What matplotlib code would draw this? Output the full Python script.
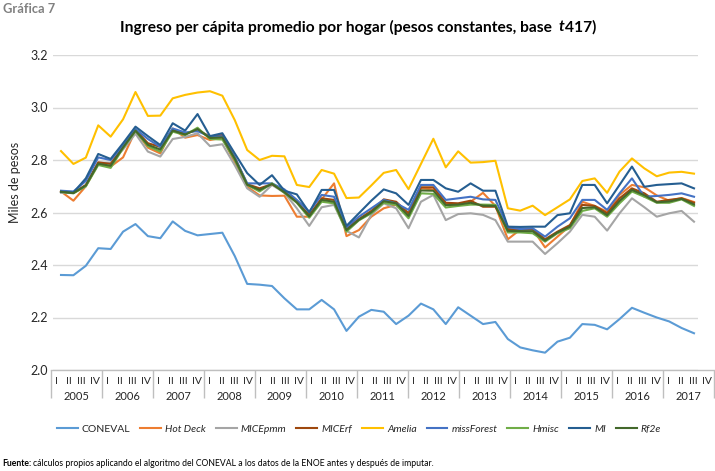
import numpy as np
import matplotlib
matplotlib.use('Agg')
import matplotlib.pyplot as plt
from matplotlib import font_manager as fm

plt.rcParams['font.family'] = ['Lato', 'DejaVu Sans']

years = [str(y) for y in range(2005, 2018)]
quarters = ['I', 'II', 'III', 'IV']

coneval = [2.362, 2.361, 2.397, 2.464, 2.461, 2.527, 2.556, 2.510, 2.502, 2.566, 2.530, 2.513,
           2.518, 2.523, 2.434, 2.328, 2.325, 2.320, 2.273, 2.231, 2.231, 2.267, 2.231, 2.149,
           2.203, 2.229, 2.222, 2.175, 2.207, 2.253, 2.231, 2.175, 2.239, 2.207, 2.175, 2.183,
           2.118, 2.086, 2.075, 2.066, 2.108, 2.123, 2.175, 2.172, 2.155, 2.194, 2.237, 2.218,
           2.200, 2.185, 2.160, 2.140]
hot_deck = [2.680, 2.645, 2.700, 2.786, 2.775, 2.810, 2.912, 2.847, 2.825, 2.920, 2.885, 2.895,
            2.876, 2.885, 2.790, 2.698, 2.665, 2.663, 2.664, 2.584, 2.584, 2.650, 2.711, 2.510,
            2.533, 2.584, 2.616, 2.629, 2.597, 2.692, 2.688, 2.632, 2.629, 2.641, 2.675, 2.625,
            2.498, 2.535, 2.537, 2.467, 2.508, 2.549, 2.641, 2.625, 2.603, 2.667, 2.705, 2.696,
            2.665, 2.645, 2.655, 2.640]
mice_pmm = [2.675, 2.675, 2.700, 2.790, 2.790, 2.840, 2.900, 2.832, 2.813, 2.880, 2.888, 2.902,
            2.853, 2.860, 2.780, 2.692, 2.660, 2.705, 2.675, 2.616, 2.549, 2.620, 2.629, 2.530,
            2.505, 2.591, 2.635, 2.616, 2.540, 2.641, 2.667, 2.571, 2.594, 2.597, 2.591, 2.571,
            2.489, 2.489, 2.489, 2.442, 2.483, 2.527, 2.591, 2.584, 2.531, 2.597, 2.654, 2.620,
            2.584, 2.597, 2.606, 2.565]
mice_rf = [2.680, 2.675, 2.705, 2.791, 2.785, 2.850, 2.915, 2.864, 2.850, 2.917, 2.900, 2.915,
           2.889, 2.895, 2.810, 2.708, 2.692, 2.708, 2.679, 2.641, 2.591, 2.654, 2.648, 2.540,
           2.575, 2.606, 2.650, 2.641, 2.597, 2.696, 2.696, 2.637, 2.635, 2.645, 2.622, 2.622,
           2.537, 2.535, 2.537, 2.498, 2.527, 2.552, 2.629, 2.625, 2.597, 2.654, 2.692, 2.673,
           2.641, 2.648, 2.654, 2.637]
amelia = [2.834, 2.785, 2.809, 2.932, 2.889, 2.955, 3.059, 2.968, 2.969, 3.035, 3.048, 3.057,
          3.062, 3.045, 2.952, 2.838, 2.800, 2.816, 2.814, 2.705, 2.697, 2.762, 2.748, 2.655,
          2.657, 2.703, 2.751, 2.762, 2.689, 2.785, 2.881, 2.772, 2.833, 2.790, 2.792, 2.797,
          2.616, 2.607, 2.626, 2.590, 2.620, 2.650, 2.720, 2.730, 2.675, 2.756, 2.806, 2.768,
          2.738, 2.752, 2.755, 2.748]
miss_forest = [2.683, 2.680, 2.720, 2.810, 2.800, 2.855, 2.918, 2.880, 2.850, 2.920, 2.905, 2.910,
               2.889, 2.890, 2.810, 2.711, 2.711, 2.711, 2.688, 2.648, 2.603, 2.667, 2.660, 2.544,
               2.584, 2.616, 2.648, 2.635, 2.610, 2.705, 2.705, 2.648, 2.654, 2.660, 2.650, 2.648,
               2.544, 2.537, 2.540, 2.508, 2.546, 2.578, 2.648, 2.648, 2.610, 2.673, 2.730, 2.660,
               2.663, 2.667, 2.673, 2.660]
hmisc = [2.678, 2.673, 2.700, 2.781, 2.770, 2.845, 2.910, 2.853, 2.832, 2.908, 2.895, 2.923,
         2.880, 2.878, 2.800, 2.705, 2.680, 2.711, 2.675, 2.637, 2.580, 2.641, 2.635, 2.527,
         2.570, 2.597, 2.637, 2.629, 2.578, 2.673, 2.671, 2.619, 2.625, 2.630, 2.630, 2.629,
         2.524, 2.524, 2.521, 2.489, 2.521, 2.540, 2.606, 2.616, 2.584, 2.635, 2.680, 2.660,
         2.637, 2.637, 2.650, 2.625]
mi = [2.679, 2.676, 2.730, 2.823, 2.804, 2.864, 2.927, 2.891, 2.857, 2.940, 2.912, 2.975,
      2.891, 2.902, 2.825, 2.750, 2.705, 2.742, 2.683, 2.669, 2.600, 2.686, 2.686, 2.549,
      2.597, 2.645, 2.688, 2.673, 2.629, 2.724, 2.724, 2.692, 2.679, 2.711, 2.683, 2.683,
      2.546, 2.545, 2.546, 2.546, 2.590, 2.597, 2.705, 2.705, 2.635, 2.705, 2.775, 2.698,
      2.705, 2.708, 2.711, 2.692]
rf2e = [2.679, 2.674, 2.703, 2.786, 2.778, 2.848, 2.912, 2.858, 2.840, 2.912, 2.897, 2.918,
        2.884, 2.886, 2.805, 2.706, 2.686, 2.709, 2.677, 2.639, 2.585, 2.648, 2.641, 2.533,
        2.572, 2.601, 2.643, 2.635, 2.587, 2.684, 2.683, 2.628, 2.630, 2.637, 2.626, 2.625,
        2.530, 2.529, 2.529, 2.493, 2.524, 2.546, 2.617, 2.620, 2.590, 2.644, 2.686, 2.666,
        2.639, 2.642, 2.652, 2.631]

names = ['CONEVAL', 'Hot Deck', 'MICEpmm', 'MICErf', 'Amelia', 'missForest', 'Hmisc', 'MI', 'Rf2e']
values = [coneval, hot_deck, mice_pmm, mice_rf, amelia, miss_forest, hmisc, mi, rf2e]
colors = ['#5B9BD5', '#ED7D31', '#A5A5A5', '#9E480E', '#FFC000', '#4472C4', '#70AD47', '#255E91', '#43682B']

# no condensed face is installed, Lato is the narrowest of what is there
head_bold = fm.FontProperties(family='Lato', weight='bold')
head_it = fm.FontProperties(family='Lato', weight='bold', style='italic')
body_reg = fm.FontProperties(family='Lato')

W, H = 715, 471
fig = plt.figure(figsize=(W / 100, H / 100), dpi=100)

# main plot area (pixel box: x 53..698, y 55..370)
ax = fig.add_axes([53 / W, 1 - 370 / H, 645 / W, 315 / H])
x = np.arange(len(coneval))
for name, vals, c in zip(names, values, colors):
    ax.plot(x, vals, color=c, lw=1.5, label=name)
ax.set_xlim(-0.645, 51.322)
ax.set_ylim(2.0, 3.2)
ticks = np.arange(2.0, 3.21, 0.2)
ax.set_yticks(ticks)
ax.set_yticklabels(['%.1f' % v for v in ticks])
ax.set_xticks([])
ax.tick_params(axis='y', length=0, pad=3.6, labelsize=9, labelcolor='#262626')
ax.grid(axis='y', color='#D9D9D9', lw=1.0)
ax.set_axisbelow(True)
for s in ax.spines.values():
    s.set_visible(False)
ax.set_ylabel('Miles de pesos', fontsize=9, color='#262626')
ax.yaxis.set_label_coords(-(53 - 21) / 645, (370 - 182) / 315)

# category axis (quarters / years)
lab = fig.add_axes([50.5 / W, 1 - 400 / H, 663 / W, 30 / H])
lab.set_xlim(0, 4 * len(years))
lab.set_ylim(0, 1)
lab.axis('off')
lab.plot([0, 4 * len(years)], [1, 1], color='#BFBFBF', lw=1.0, clip_on=False)
bounds = np.arange(len(years) + 1) * 4
lab.vlines(bounds, 0.07, 1, color='#BFBFBF', lw=1.0, clip_on=False)
for k, yr in enumerate(years):
    for q, qn in enumerate(quarters):
        lab.text(4 * k + q + 0.45, 0.6, qn, ha='center', va='center', fontsize=7.5, color='#262626')
    lab.text(4 * k + 2, 0.12, yr, ha='center', va='center', fontsize=8, color='#262626')

# legend
leg = fig.legend(*ax.get_legend_handles_labels(), loc='center', bbox_to_anchor=(0.502, 1 - 429 / H),
                 ncol=9, frameon=False, handlelength=2.0, handletextpad=0.4,
                 columnspacing=0.95, prop={'style': 'italic', 'size': 7.5})
for t in leg.get_texts():
    t.set_color('#262626')
leg.get_texts()[0].set_fontstyle('normal')


def pieces(parts, x_px, y_px, width_px, size, align='left'):
    # place text runs side by side and scale them so the whole run is width_px wide
    fig.canvas.draw()
    r = fig.canvas.get_renderer()
    objs = [fig.text(0, 1 - y_px / H, s, fontproperties=fp, color=col, va='center', ha='left')
            for s, fp, col, gap in parts]
    for o in objs:
        o.set_fontsize(size)
    ws = [o.get_window_extent(r).width for o in objs]
    gaps = [gap * size * 100 / 72 for s, fp, col, gap in parts]
    total = sum(ws) + sum(gaps)
    k = width_px / total
    for o in objs:
        o.set_fontsize(size * k)
    ws = [w * k for w in ws]
    gaps = [g * k for g in gaps]
    pos = x_px - (width_px / 2 if align == 'center' else 0)
    for o, w, g in zip(objs, ws, gaps):
        o.set_x((pos + g) / W)
        pos += g + w


pieces([('Gráfica 7', head_bold, '#808080', 0)], 3, 9, 52, 9)
pieces([('Ingreso per cápita promedio por hogar (pesos constantes, base', head_bold, 'black', 0),
        ('t', head_it, 'black', 0.3),
        ('417)', head_bold, 'black', 0.03)], 358, 27, 477, 13, align='center')
pieces([('Fuente:', head_bold, 'black', 0),
        ('cálculos propios aplicando el algoritmo del CONEVAL a los datos de la ENOE antes y después de imputar.',
         body_reg, 'black', 0.25)], 2, 463, 426, 7.5)

fig.savefig('out.png', dpi=100)
